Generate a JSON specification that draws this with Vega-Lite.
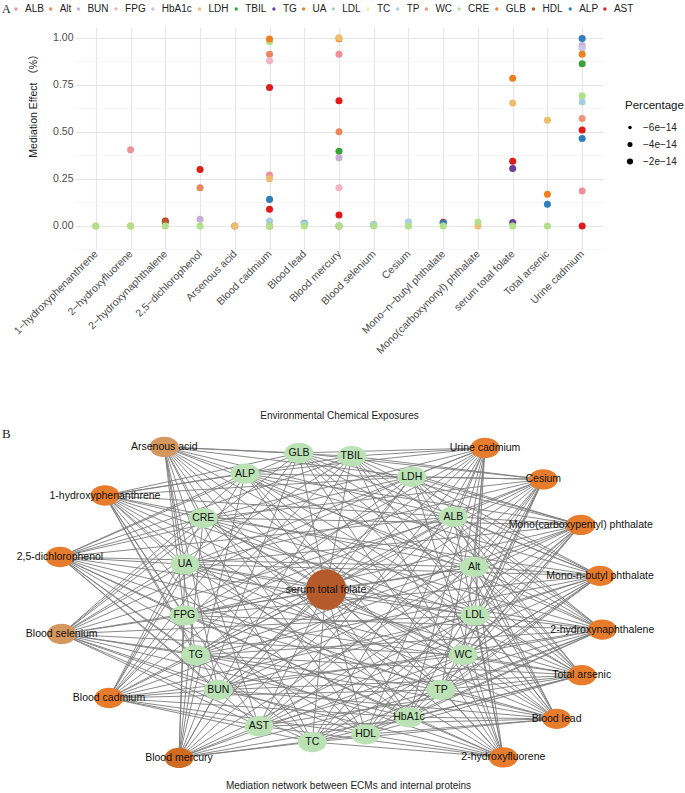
{
  "$schema": "https://vega.github.io/schema/vega-lite/v6.json",
  "padding": {"left": 2, "top": 4, "right": 0, "bottom": 0},
  "background": "white",
  "columns": 1,
  "spacing": 6,
  "resolve": {"scale": {"color": "independent", "size": "independent", "x": "independent", "y": "independent"}},
  "datasets": {
    "effects": [
      {"ECM": "1−hydroxyphenanthrene", "Mediator": "LDH", "Effect": 0, "Percentage": -1e-15},
      {"ECM": "1−hydroxyphenanthrene", "Mediator": "CRE", "Effect": 0, "Percentage": -1e-15},
      {"ECM": "2−hydroxyfluorene", "Mediator": "ALB", "Effect": 0.405, "Percentage": -1e-15},
      {"ECM": "2−hydroxyfluorene", "Mediator": "LDH", "Effect": 0, "Percentage": -1e-15},
      {"ECM": "2−hydroxyfluorene", "Mediator": "CRE", "Effect": 0, "Percentage": -1e-15},
      {"ECM": "2−hydroxynaphthalene", "Mediator": "AST", "Effect": 0.026, "Percentage": -1e-15},
      {"ECM": "2−hydroxynaphthalene", "Mediator": "HDL", "Effect": 0.022, "Percentage": -1e-15},
      {"ECM": "2−hydroxynaphthalene", "Mediator": "CRE", "Effect": 0, "Percentage": -1e-15},
      {"ECM": "2,5−dichlorophenol", "Mediator": "AST", "Effect": 0.30, "Percentage": -1e-15},
      {"ECM": "2,5−dichlorophenol", "Mediator": "Alt", "Effect": 0.203, "Percentage": -1e-15},
      {"ECM": "2,5−dichlorophenol", "Mediator": "BUN", "Effect": 0.035, "Percentage": -1e-15},
      {"ECM": "2,5−dichlorophenol", "Mediator": "CRE", "Effect": 0, "Percentage": -1e-15},
      {"ECM": "Arsenous acid", "Mediator": "HDL", "Effect": 0, "Percentage": -1e-15},
      {"ECM": "Arsenous acid", "Mediator": "LDH", "Effect": 0, "Percentage": -1e-15},
      {"ECM": "Blood cadmium", "Mediator": "CRE", "Effect": 0.979, "Percentage": -1e-15},
      {"ECM": "Blood cadmium", "Mediator": "UA", "Effect": 0.993, "Percentage": -1e-15},
      {"ECM": "Blood cadmium", "Mediator": "Alt", "Effect": 0.912, "Percentage": -1e-15},
      {"ECM": "Blood cadmium", "Mediator": "FPG", "Effect": 0.877, "Percentage": -1e-15},
      {"ECM": "Blood cadmium", "Mediator": "AST", "Effect": 0.735, "Percentage": -1e-15},
      {"ECM": "Blood cadmium", "Mediator": "ALB", "Effect": 0.27, "Percentage": -1e-15},
      {"ECM": "Blood cadmium", "Mediator": "LDH", "Effect": 0.25, "Percentage": -1e-15},
      {"ECM": "Blood cadmium", "Mediator": "ALP", "Effect": 0.141, "Percentage": -1e-15},
      {"ECM": "Blood cadmium", "Mediator": "AST", "Effect": 0.088, "Percentage": -1e-15},
      {"ECM": "Blood cadmium", "Mediator": "TP", "Effect": 0.026, "Percentage": -1e-15},
      {"ECM": "Blood cadmium", "Mediator": "HDL", "Effect": 0, "Percentage": -1e-15},
      {"ECM": "Blood cadmium", "Mediator": "CRE", "Effect": 0, "Percentage": -1e-15},
      {"ECM": "Blood lead", "Mediator": "ALP", "Effect": 0.014, "Percentage": -1e-15},
      {"ECM": "Blood lead", "Mediator": "TP", "Effect": 0.012, "Percentage": -1e-15},
      {"ECM": "Blood lead", "Mediator": "CRE", "Effect": 0, "Percentage": -1e-15},
      {"ECM": "Blood mercury", "Mediator": "UA", "Effect": 0.995, "Percentage": -1e-15},
      {"ECM": "Blood mercury", "Mediator": "LDH", "Effect": 1.0, "Percentage": -1e-15},
      {"ECM": "Blood mercury", "Mediator": "ALB", "Effect": 0.912, "Percentage": -1e-15},
      {"ECM": "Blood mercury", "Mediator": "AST", "Effect": 0.665, "Percentage": -1e-15},
      {"ECM": "Blood mercury", "Mediator": "Alt", "Effect": 0.5, "Percentage": -1e-15},
      {"ECM": "Blood mercury", "Mediator": "TBIL", "Effect": 0.397, "Percentage": -1e-15},
      {"ECM": "Blood mercury", "Mediator": "BUN", "Effect": 0.362, "Percentage": -1e-15},
      {"ECM": "Blood mercury", "Mediator": "FPG", "Effect": 0.203, "Percentage": -1e-15},
      {"ECM": "Blood mercury", "Mediator": "AST", "Effect": 0.058, "Percentage": -1e-15},
      {"ECM": "Blood mercury", "Mediator": "HDL", "Effect": 0, "Percentage": -1e-15},
      {"ECM": "Blood mercury", "Mediator": "CRE", "Effect": 0, "Percentage": -1e-15},
      {"ECM": "Blood selenium", "Mediator": "ALP", "Effect": 0.006, "Percentage": -1e-15},
      {"ECM": "Blood selenium", "Mediator": "TP", "Effect": 0.008, "Percentage": -1e-15},
      {"ECM": "Blood selenium", "Mediator": "CRE", "Effect": 0, "Percentage": -1e-15},
      {"ECM": "Cesium", "Mediator": "TP", "Effect": 0.021, "Percentage": -1e-15},
      {"ECM": "Cesium", "Mediator": "CRE", "Effect": 0, "Percentage": -1e-15},
      {"ECM": "Mono−n−butyl phthalate", "Mediator": "AST", "Effect": 0.02, "Percentage": -1e-15},
      {"ECM": "Mono−n−butyl phthalate", "Mediator": "ALP", "Effect": 0.016, "Percentage": -1e-15},
      {"ECM": "Mono−n−butyl phthalate", "Mediator": "CRE", "Effect": 0, "Percentage": -1e-15},
      {"ECM": "Mono(carboxynonyl) phthalate", "Mediator": "LDH", "Effect": 0, "Percentage": -1e-15},
      {"ECM": "Mono(carboxynonyl) phthalate", "Mediator": "CRE", "Effect": 0.021, "Percentage": -1e-15},
      {"ECM": "serum total folate", "Mediator": "UA", "Effect": 0.785, "Percentage": -1e-15},
      {"ECM": "serum total folate", "Mediator": "LDH", "Effect": 0.653, "Percentage": -1e-15},
      {"ECM": "serum total folate", "Mediator": "AST", "Effect": 0.344, "Percentage": -1e-15},
      {"ECM": "serum total folate", "Mediator": "TG", "Effect": 0.305, "Percentage": -1e-15},
      {"ECM": "serum total folate", "Mediator": "TG", "Effect": 0.018, "Percentage": -1e-15},
      {"ECM": "serum total folate", "Mediator": "CRE", "Effect": 0, "Percentage": -1e-15},
      {"ECM": "Total arsenic", "Mediator": "LDH", "Effect": 0.561, "Percentage": -1e-15},
      {"ECM": "Total arsenic", "Mediator": "UA", "Effect": 0.168, "Percentage": -1e-15},
      {"ECM": "Total arsenic", "Mediator": "ALP", "Effect": 0.115, "Percentage": -1e-15},
      {"ECM": "Total arsenic", "Mediator": "CRE", "Effect": 0, "Percentage": -1e-15},
      {"ECM": "Urine cadmium", "Mediator": "ALP", "Effect": 0.996, "Percentage": -1e-15},
      {"ECM": "Urine cadmium", "Mediator": "BUN", "Effect": 0.958, "Percentage": -1e-15},
      {"ECM": "Urine cadmium", "Mediator": "HbA1c", "Effect": 0.944, "Percentage": -1e-15},
      {"ECM": "Urine cadmium", "Mediator": "UA", "Effect": 0.912, "Percentage": -1e-15},
      {"ECM": "Urine cadmium", "Mediator": "TBIL", "Effect": 0.862, "Percentage": -1e-15},
      {"ECM": "Urine cadmium", "Mediator": "CRE", "Effect": 0.691, "Percentage": -1e-15},
      {"ECM": "Urine cadmium", "Mediator": "TP", "Effect": 0.658, "Percentage": -1e-15},
      {"ECM": "Urine cadmium", "Mediator": "WC", "Effect": 0.571, "Percentage": -1e-15},
      {"ECM": "Urine cadmium", "Mediator": "AST", "Effect": 0.51, "Percentage": -1e-15},
      {"ECM": "Urine cadmium", "Mediator": "ALP", "Effect": 0.464, "Percentage": -1e-15},
      {"ECM": "Urine cadmium", "Mediator": "ALB", "Effect": 0.185, "Percentage": -1e-15},
      {"ECM": "Urine cadmium", "Mediator": "AST", "Effect": 0, "Percentage": -1e-15}
    ],
    "nodes": [
      {"name": "Arsenous acid", "x": 23.76, "y": 1.19, "group": "chem-low"},
      {"name": "Urine cadmium", "x": 70.72, "y": 1.49, "group": "chem"},
      {"name": "Cesium", "x": 79.25, "y": 10.96, "group": "chem"},
      {"name": "1-hydroxyphenanthrene", "x": 15.08, "y": 15.82, "group": "chem"},
      {"name": "Mono(carboxypentyl) phthalate", "x": 84.73, "y": 24.69, "group": "chem"},
      {"name": "2,5-dichlorophenol", "x": 8.49, "y": 34.33, "group": "chem"},
      {"name": "Mono-n-butyl phthalate", "x": 87.56, "y": 40.0, "group": "chem"},
      {"name": "Blood selenium", "x": 8.74, "y": 57.52, "group": "chem-low"},
      {"name": "2-hydroxynaphthalene", "x": 87.89, "y": 56.21, "group": "chem"},
      {"name": "Total arsenic", "x": 84.88, "y": 69.94, "group": "chem"},
      {"name": "Blood cadmium", "x": 15.67, "y": 76.81, "group": "chem"},
      {"name": "Blood lead", "x": 81.21, "y": 83.07, "group": "chem"},
      {"name": "Blood mercury", "x": 25.92, "y": 94.84, "group": "chem-high"},
      {"name": "2-hydroxyfluorene", "x": 73.4, "y": 94.72, "group": "chem"},
      {"name": "serum total folate", "x": 47.44, "y": 44.18, "group": "hub"},
      {"name": "GLB", "x": 43.48, "y": 2.99, "group": "protein"},
      {"name": "TBIL", "x": 51.2, "y": 3.97, "group": "protein"},
      {"name": "ALP", "x": 35.58, "y": 9.25, "group": "protein"},
      {"name": "LDH", "x": 59.99, "y": 10.15, "group": "protein"},
      {"name": "CRE", "x": 29.47, "y": 22.6, "group": "protein"},
      {"name": "ALB", "x": 66.08, "y": 22.18, "group": "protein"},
      {"name": "UA", "x": 26.79, "y": 36.51, "group": "protein"},
      {"name": "Alt", "x": 69.11, "y": 37.31, "group": "protein"},
      {"name": "FPG", "x": 26.69, "y": 51.94, "group": "protein"},
      {"name": "LDL", "x": 69.25, "y": 51.94, "group": "protein"},
      {"name": "TG", "x": 28.36, "y": 63.88, "group": "protein"},
      {"name": "WC", "x": 67.54, "y": 63.88, "group": "protein"},
      {"name": "BUN", "x": 31.67, "y": 74.33, "group": "protein"},
      {"name": "TP", "x": 64.28, "y": 74.33, "group": "protein"},
      {"name": "AST", "x": 37.63, "y": 85.28, "group": "protein"},
      {"name": "HbA1c", "x": 59.59, "y": 82.6, "group": "protein"},
      {"name": "TC", "x": 45.43, "y": 90.06, "group": "protein"},
      {"name": "HDL", "x": 53.25, "y": 87.76, "group": "protein"}
    ],
    "edges": [
      {"from": "Arsenous acid", "to": ["ALB","Alt","BUN","FPG","HbA1c","LDH","TBIL","TG","UA","LDL","TC","TP","WC","CRE","GLB","HDL","ALP","AST"]},
      {"from": "Urine cadmium", "to": ["ALB","Alt","BUN","FPG","HbA1c","LDH","TBIL","TG","UA","LDL","TC","TP","WC","CRE","GLB","HDL","ALP","AST"]},
      {"from": "Cesium", "to": ["ALB","Alt","BUN","FPG","HbA1c","LDH","TBIL","TG","UA","LDL","TC","TP","WC","CRE","GLB","HDL","ALP","AST"]},
      {"from": "1-hydroxyphenanthrene", "to": ["ALB","Alt","BUN","FPG","HbA1c","LDH","TBIL","TG","UA","LDL","TC","TP","WC","CRE","GLB","HDL","ALP","AST"]},
      {"from": "Mono(carboxypentyl) phthalate", "to": ["ALB","Alt","BUN","FPG","HbA1c","LDH","TBIL","TG","UA","LDL","TC","TP","WC","CRE","GLB","HDL","ALP","AST"]},
      {"from": "2,5-dichlorophenol", "to": ["ALB","Alt","BUN","FPG","HbA1c","LDH","TBIL","TG","UA","LDL","TC","TP","WC","CRE","GLB","HDL","ALP","AST"]},
      {"from": "Mono-n-butyl phthalate", "to": ["ALB","Alt","BUN","FPG","HbA1c","LDH","TBIL","TG","UA","LDL","TC","TP","WC","CRE","GLB","HDL","ALP","AST"]},
      {"from": "Blood selenium", "to": ["ALB","Alt","BUN","FPG","HbA1c","LDH","TBIL","TG","UA","LDL","TC","TP","WC","CRE","GLB","HDL","ALP","AST"]},
      {"from": "2-hydroxynaphthalene", "to": ["ALB","Alt","BUN","FPG","HbA1c","LDH","TBIL","TG","UA","LDL","TC","TP","WC","CRE","GLB","HDL","ALP","AST"]},
      {"from": "Total arsenic", "to": ["ALB","Alt","BUN","FPG","HbA1c","LDH","TBIL","TG","UA","LDL","TC","TP","WC","CRE","GLB","HDL","ALP","AST"]},
      {"from": "Blood cadmium", "to": ["ALB","Alt","BUN","FPG","HbA1c","LDH","TBIL","TG","UA","LDL","TC","TP","WC","CRE","GLB","HDL","ALP","AST"]},
      {"from": "Blood lead", "to": ["ALB","Alt","BUN","FPG","HbA1c","LDH","TBIL","TG","UA","LDL","TC","TP","WC","CRE","GLB","HDL","ALP","AST"]},
      {"from": "Blood mercury", "to": ["ALB","Alt","BUN","FPG","HbA1c","LDH","TBIL","TG","UA","LDL","TC","TP","WC","CRE","GLB","HDL","ALP","AST"]},
      {"from": "2-hydroxyfluorene", "to": ["ALB","Alt","BUN","FPG","HbA1c","LDH","TBIL","TG","UA","LDL","TC","TP","WC","CRE","GLB","HDL","ALP","AST"]},
      {"from": "serum total folate", "to": ["ALB","Alt","BUN","FPG","HbA1c","LDH","TBIL","TG","UA","LDL","TC","TP","WC","CRE","GLB","HDL","ALP","AST"]}
    ]
  },
  "concat": [
    {
      "width": 528,
      "height": 223,
      "data": {"name": "effects"},
      "mark": {"type": "circle", "opacity": 1},
      "encoding": {
        "x": {
          "field": "ECM", "type": "nominal",
          "scale": {"type": "point", "padding": 0.6, "domain": ["1−hydroxyphenanthrene", "2−hydroxyfluorene", "2−hydroxynaphthalene", "2,5−dichlorophenol", "Arsenous acid", "Blood cadmium", "Blood lead", "Blood mercury", "Blood selenium", "Cesium", "Mono−n−butyl phthalate", "Mono(carboxynonyl) phthalate", "serum total folate", "Total arsenic", "Urine cadmium"]},
          "axis": {"title": "Environmental Chemical Exposures", "labelAngle": -45, "labelAlign": "right", "labelBaseline": "middle", "labelPadding": 2, "labelDx": 6, "labelFontSize": 10.5, "labelOverlap": false, "labelLimit": 300, "titlePadding": 55, "titleFontSize": 10, "grid": true, "gridColor": "#e6e6e6", "gridWidth": 1.1}
        },
        "y": {
          "field": "Effect", "type": "quantitative",
          "scale": {"domain": [-0.128, 1.057], "nice": false, "zero": false},
          "axis": {
            "title": "Mediation Effect （%）", "titleFont": "Liberation Sans, Noto Sans CJK SC", "titleFontSize": 10.5, "titleX": -37, "titleY": 76, "titleAlign": "center", "titleAngle": -90, "titleBaseline": "bottom",
            "values": [-0.125, 0, 0.125, 0.25, 0.375, 0.5, 0.625, 0.75, 0.875, 1],
            "labelExpr": "(datum.value < 0 || abs(datum.value*4 - round(datum.value*4)) > 0.01) ? '' : format(datum.value, '.2f')",
            "labelFontSize": 10.5, "labelPadding": 2,
            "grid": true,
            "gridColor": {"condition": {"test": "abs(datum.value*4 - round(datum.value*4)) > 0.01", "value": "#f0f0f0"}, "value": "#e6e6e6"},
            "gridWidth": {"condition": {"test": "abs(datum.value*4 - round(datum.value*4)) > 0.01", "value": 0.6}, "value": 1.1}
          }
        },
        "color": {
          "field": "Mediator", "type": "nominal",
          "scale": {
            "domain": ["ALB","Alt","BUN","FPG","HbA1c","LDH","TBIL","TG","UA","LDL","TC","TP","WC","CRE","GLB","HDL","ALP","AST"],
            "range": ["#EE9097","#EC8560","#C6AED8","#F2B3C3","#C9C3E6","#F0BB6C","#3AA13A","#6A3D9A","#F07F1E","#A3D4C9","#EEF3A5","#A6CEE3","#E9967C","#B2DF8A","#E6863A","#B15928","#2F7EBB","#E31A1C"]
          },
          "legend": {"title": "A\u00a0\u00a0\u00a0\u00a0\u00a0", "orient": "none", "legendX": -73, "legendY": -23, "direction": "horizontal", "gridAlign": "none", "titleOrient": "left", "titleFont": "Liberation Serif", "titleFontSize": 12, "titleFontWeight": "normal", "titleColor": "#222222", "titlePadding": 0, "symbolType": "circle", "symbolSize": 11, "symbolStrokeWidth": 0, "symbolOpacity": 1, "labelFontSize": 10, "labelColor": "#222222", "labelOffset": 4, "columnPadding": 1.7}
        },
        "size": {
          "field": "Percentage", "type": "quantitative",
          "scale": {"domain": [-6e-14, 0], "range": [12.6, 50], "zero": false, "nice": false},
          "legend": {"title": "Percentage", "orient": "none", "legendX": 550, "legendY": 73, "values": [-6e-14, -4e-14, -2e-14], "labelExpr": "'−' + replace(format(-datum.value, '.0e'), '-', '−')", "titleFontSize": 11.5, "titleFontWeight": "normal", "titleColor": "#111111", "labelFontSize": 10, "labelColor": "#222222", "symbolFillColor": "#000000", "symbolStrokeWidth": 0, "symbolOpacity": 1, "labelOffset": 8, "rowPadding": 7, "titlePadding": 11}
        }
      }
    },
    {
      "width": 610,
      "height": 332,
      "title": {"text": "B", "anchor": "start", "frame": "group", "font": "Liberation Serif", "fontSize": 13, "fontWeight": "normal", "offset": -4, "dx": -73, "color": "#222222"},
      "layer": [
        {
          "data": {"name": "edges"},
          "transform": [
            {"flatten": ["to"]},
            {"lookup": "from", "from": {"data": {"name": "nodes"}, "key": "name", "fields": ["x", "y"]}, "as": ["x1", "y1"]},
            {"lookup": "to", "from": {"data": {"name": "nodes"}, "key": "name", "fields": ["x", "y"]}, "as": ["x2", "y2"]}
          ],
          "mark": {"type": "rule", "color": "#7c7c7c", "strokeWidth": 1, "opacity": 0.9},
          "encoding": {
            "x": {"field": "x1", "type": "quantitative", "scale": {"domain": [10.69, 100], "nice": false, "zero": false},
                  "axis": {"title": "Mediation network between ECMs and internal proteins", "labels": false, "ticks": false, "domain": false, "grid": false, "titlePadding": 5, "titleX": 273, "titleAlign": "center", "titleFontSize": 10, "titleFontWeight": "normal", "titleColor": "#222222"}},
            "y": {"field": "y1", "type": "quantitative", "scale": {"domain": [0, 100], "nice": false, "zero": false, "reverse": true}, "axis": null},
            "x2": {"field": "x2"},
            "y2": {"field": "y2"}
          }
        },
        {
          "data": {"name": "nodes"},
          "transform": [{"filter": "datum.group !== 'hub'"}],
          "mark": {"type": "point", "shape": "M-1,0C-1,-0.387,-0.552,-0.7,0,-0.7C0.552,-0.7,1,-0.387,1,0C1,0.387,0.552,0.7,0,0.7C-0.552,0.7,-1,0.387,-1,0Z", "size": 841, "filled": true, "opacity": 1, "strokeWidth": 0},
          "encoding": {
            "x": {"field": "x", "type": "quantitative"},
            "y": {"field": "y", "type": "quantitative"},
            "color": {"field": "group", "type": "nominal", "scale": {"domain": ["protein", "chem", "chem-low", "chem-high", "hub"], "range": ["#BAE2B4", "#E67C2C", "#D4975E", "#D06B22", "#B45A2B"]}, "legend": null}
          }
        },
        {
          "data": {"name": "nodes"},
          "transform": [{"filter": "datum.group === 'hub'"}],
          "mark": {"type": "circle", "size": 1662, "opacity": 1},
          "encoding": {
            "x": {"field": "x", "type": "quantitative"},
            "y": {"field": "y", "type": "quantitative"},
            "color": {"field": "group", "type": "nominal", "legend": null}
          }
        },
        {
          "data": {"name": "nodes"},
          "mark": {"type": "text", "fontSize": 10.5, "color": "#111111", "font": "Liberation Sans"},
          "encoding": {
            "x": {"field": "x", "type": "quantitative"},
            "y": {"field": "y", "type": "quantitative"},
            "text": {"field": "name"}
          }
        }
      ]
    }
  ],
  "config": {
    "font": "Liberation Sans",
    "view": {"stroke": null},
    "axis": {"labelFont": "Liberation Sans", "titleFont": "Liberation Sans", "labelColor": "#4d4d4d", "titleColor": "#1a1a1a", "titleFontWeight": "normal", "domain": false, "ticks": false, "tickSize": 0},
    "legend": {"padding": 0, "labelFont": "Liberation Sans", "titleFont": "Liberation Sans"}
  }
}
